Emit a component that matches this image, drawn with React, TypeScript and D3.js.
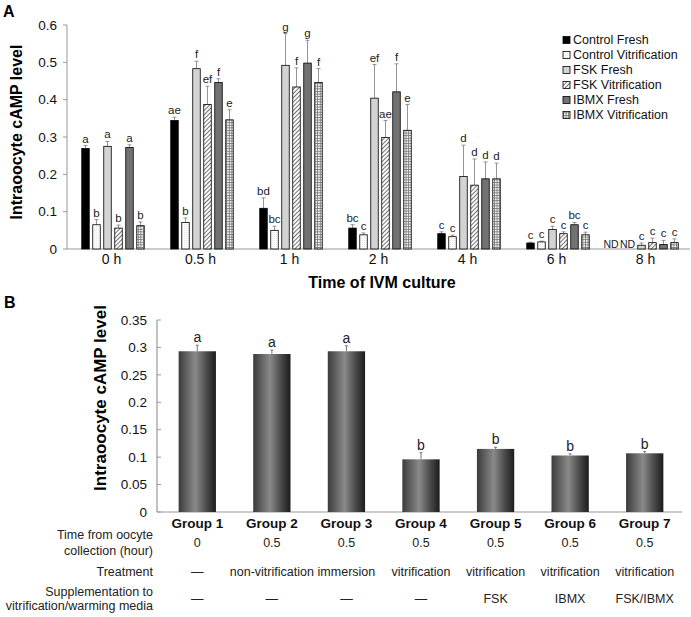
import React from "react";
import * as d3 from "d3";

// ---------- Panel A data ----------
const timeCats = ["0 h", "0.5 h", "1 h", "2 h", "4 h", "6 h", "8 h"];
const seriesNames = [
  "Control Fresh",
  "Control Vitrification",
  "FSK Fresh",
  "FSK Vitrification",
  "IBMX Fresh",
  "IBMX Vitrification",
];
const controlFresh = [0.269, 0.344, 0.109, 0.056, 0.041, 0.016, null];
const controlFreshErr = [0.008, 0.009, 0.028, 0.009, 0.005, 0.002, null];
const controlFreshLetters = ["a", "ae", "bd", "bc", "c", "c", "ND"];
const controlVit = [0.065, 0.071, 0.05, 0.038, 0.033, 0.019, null];
const controlVitErr = [0.014, 0.012, 0.011, 0.005, 0.004, 0.002, null];
const controlVitLetters = ["b", "b", "bc", "c", "c", "c", "ND"];
const fskFresh = [0.275, 0.483, 0.492, 0.404, 0.194, 0.052, 0.01];
const fskFreshErr = [0.013, 0.02, 0.085, 0.09, 0.084, 0.009, 0.006];
const fskFreshLetters = ["a", "f", "g", "ef", "d", "c", "c"];
const fskVit = [0.056, 0.387, 0.434, 0.299, 0.171, 0.041, 0.017];
const fskVitErr = [0.008, 0.049, 0.051, 0.045, 0.07, 0.005, 0.012];
const fskVitLetters = ["b", "ef", "f", "ae", "d", "c", "c"];
const ibmxFresh = [0.272, 0.446, 0.498, 0.421, 0.188, 0.065, 0.012];
const ibmxFreshErr = [0.007, 0.01, 0.061, 0.075, 0.045, 0.006, 0.011];
const ibmxFreshLetters = ["a", "f", "g", "f", "d", "bc", "c"];
const ibmxVit = [0.0625, 0.346, 0.446, 0.318, 0.188, 0.038, 0.017];
const ibmxVitErr = [0.01, 0.027, 0.037, 0.069, 0.042, 0.007, 0.01];
const ibmxVitLetters = ["b", "e", "f", "e", "d", "c", "c"];
const yTicksA = [0, 0.1, 0.2, 0.3, 0.4, 0.5, 0.6];

// ---------- Panel B data ----------
const groups = ["Group 1", "Group 2", "Group 3", "Group 4", "Group 5", "Group 6", "Group 7"];
const groupValues = [0.293, 0.288, 0.293, 0.096, 0.115, 0.103, 0.107];
const groupErr = [0.011, 0.007, 0.01, 0.012, 0.003, 0.003, 0.003];
const groupLetters = ["a", "a", "a", "b", "b", "b", "b"];
const timeFromCollection = ["0", "0.5", "0.5", "0.5", "0.5", "0.5", "0.5"];
const treatment = ["—", "non-vitrification", "immersion", "vitrification", "vitrification", "vitrification", "vitrification"];
const supplementation = ["—", "—", "—", "—", "FSK", "IBMX", "FSK/IBMX"];
const yTicksB = [0, 0.05, 0.1, 0.15, 0.2, 0.25, 0.3, 0.35];

const FONT = "'Liberation Sans', Arial, sans-serif";

export default function App() {
  const seriesValues = [controlFresh, controlVit, fskFresh, fskVit, ibmxFresh, ibmxVit];
  const seriesErr = [controlFreshErr, controlVitErr, fskFreshErr, fskVitErr, ibmxFreshErr, ibmxVitErr];
  const seriesLetters = [
    controlFreshLetters,
    controlVitLetters,
    fskFreshLetters,
    fskVitLetters,
    ibmxFreshLetters,
    ibmxVitLetters,
  ];
  const fills = ["#000000", "url(#dotsPat)", "#d3d3d3", "url(#hatchPat)", "#727272", "url(#gridPat)"];

  // Panel A scales
  const xA = d3.scaleBand<string>().domain(timeCats).range([67, 690]).padding(0);
  const yA = d3.scaleLinear().domain([0, 0.6]).range([249, 25]);
  const barW = 7.5;
  const barStep = 11;

  // Panel B scales
  const xB = d3.scaleBand<string>().domain(groups).range([160, 682]).paddingInner(0.5).paddingOuter(0.25);
  const yB = d3.scaleLinear().domain([0, 0.35]).range([512, 320]);

  return (
    <svg
      width={691}
      height={617}
      style={{ position: "absolute", left: 0, top: 0, background: "#fff" }}
      fontFamily={FONT}
    >
      <defs>
        <pattern id="dotsPat" width="2" height="2" patternUnits="userSpaceOnUse">
          <rect width="2" height="2" fill="#ffffff" />
          <rect width="1" height="1" fill="#e4e4e4" />
        </pattern>
        <pattern id="hatchPat" width="3" height="3" patternUnits="userSpaceOnUse" patternTransform="rotate(45)">
          <rect width="3" height="3" fill="#ffffff" />
          <line x1="0" y1="0" x2="0" y2="3" stroke="#333" strokeWidth="1.4" />
        </pattern>
        <pattern id="gridPat" width="2.6" height="2.6" patternUnits="userSpaceOnUse">
          <rect width="2.6" height="2.6" fill="#ffffff" />
          <line x1="0" y1="0.5" x2="2.6" y2="0.5" stroke="#777" strokeWidth="0.9" />
          <line x1="0.5" y1="0" x2="0.5" y2="2.6" stroke="#777" strokeWidth="0.9" />
        </pattern>
        <linearGradient id="barGrad" x1="0" x2="1" y1="0" y2="0">
          <stop offset="0" stopColor="#3a3a3a" />
          <stop offset="0.15" stopColor="#565656" />
          <stop offset="0.45" stopColor="#8a8a8a" />
          <stop offset="0.75" stopColor="#4a4a4a" />
          <stop offset="1" stopColor="#1c1c1c" />
        </linearGradient>
      </defs>

      {/* ================= Panel A ================= */}
      <text x={3} y={17} fontSize={16} fontWeight="bold">A</text>
      {/* y axis */}
      <line x1={67} x2={67} y1={yA(0.6)} y2={yA(0)} stroke="#999" strokeWidth={1} />
      {yTicksA.map((t) => (
        <g key={"ya" + t}>
          <line x1={63} x2={67} y1={yA(t)} y2={yA(t)} stroke="#999" />
          <text x={57} y={yA(t)} dy="0.35em" fontSize={13.5} textAnchor="end" fill="#111">
            {t === 0 ? "0" : t.toFixed(1)}
          </text>
        </g>
      ))}
      {/* x axis */}
      <line x1={67} x2={690} y1={yA(0)} y2={yA(0)} stroke="#999" strokeWidth={1} />
      {timeCats.map((c) => (
        <text
          key={"xa" + c}
          x={(xA(c) as number) + xA.bandwidth() / 2}
          y={264}
          fontSize={14}
          textAnchor="middle"
          fill="#111"
        >
          {c}
        </text>
      ))}
      <text
        transform={`translate(22, 132) rotate(-90)`}
        fontSize={16}
        fontWeight="bold"
        textAnchor="middle"
      >
        Intraoocyte cAMP level
      </text>
      <text x={382} y={288} fontSize={16} fontWeight="bold" textAnchor="middle">
        Time of IVM culture
      </text>

      {/* bars */}
      {timeCats.map((c, gi) => {
        const cx = (xA(c) as number) + xA.bandwidth() / 2 + 1.5;
        return (
          <g key={"grp" + c}>
            {seriesNames.map((s, si) => {
              const v = seriesValues[si][gi];
              const e = seriesErr[si][gi];
              const bx = cx + (si - 2.5) * barStep;
              const letter = seriesLetters[si][gi];
              if (v == null) {
                return (
                  <text
                    key={s}
                    x={cx - 2.5 * barStep - 8.5 + si * 16.5}
                    y={yA(0) - 1}
                    fontSize={10.5}
                    textAnchor="middle"
                    fill="#222"
                  >
                    {letter}
                  </text>
                );
              }
              const top = yA(v);
              const etop = yA(v + (e || 0));
              return (
                <g key={s}>
                  <line x1={bx} x2={bx} y1={top} y2={etop} stroke="#888" strokeWidth={0.9} />
                  <line x1={bx - 2} x2={bx + 2} y1={etop} y2={etop} stroke="#888" strokeWidth={0.9} />
                  <rect
                    x={bx - barW / 2}
                    y={top}
                    width={barW}
                    height={yA(0) - top}
                    fill={fills[si]}
                    stroke="#000"
                    strokeWidth={0.8}
                  />
                  <text x={bx} y={etop - 3} fontSize={11.5} textAnchor="middle" fill="#222">
                    {letter}
                  </text>
                </g>
              );
            })}
          </g>
        );
      })}

      {/* legend */}
      {seriesNames.map((s, i) => (
        <g key={"leg" + s} transform={`translate(563, ${40 + i * 15})`}>
          <rect x={0} y={-3.5} width={7} height={7} fill={fills[i]} stroke="#000" strokeWidth={0.8} />
          <text x={10} y={0} dy="0.35em" fontSize={12.5} fill="#111">
            {s}
          </text>
        </g>
      ))}

      {/* ================= Panel B ================= */}
      <text x={4} y={308} fontSize={16} fontWeight="bold">B</text>
      <line x1={157} x2={157} y1={yB(0.35)} y2={yB(0)} stroke="#999" strokeWidth={1.2} />
      {yTicksB.map((t) => (
        <g key={"yb" + t}>
          <line x1={157} x2={161} y1={yB(t)} y2={yB(t)} stroke="#999" />
          <text x={147} y={yB(t)} dy="0.35em" fontSize={13.5} textAnchor="end" fill="#111">
            {t === 0 ? "0" : String(+t.toFixed(2))}
          </text>
        </g>
      ))}
      <line x1={157} x2={682} y1={yB(0)} y2={yB(0)} stroke="#999" strokeWidth={1.2} />
      <text
        transform={`translate(106, ${398}) rotate(-90)`}
        fontSize={17}
        fontWeight="bold"
        textAnchor="middle"
      >
        Intraoocyte cAMP level
      </text>

      {groups.map((g, i) => {
        const x0 = xB(g) as number;
        const w = xB.bandwidth();
        const cx = x0 + w / 2;
        const top = yB(groupValues[i]);
        const etop = yB(groupValues[i] + groupErr[i]);
        return (
          <g key={g}>
            <line x1={cx} x2={cx} y1={top} y2={etop} stroke="#777" strokeWidth={1} />
            <line x1={cx - 1.5} x2={cx + 1.5} y1={etop} y2={etop} stroke="#777" strokeWidth={1} />
            <rect x={x0} y={top} width={w} height={yB(0) - top} fill="url(#barGrad)" />
            <text x={cx} y={etop - 3} fontSize={14} textAnchor="middle" fill="#222">
              {groupLetters[i]}
            </text>
            <text x={cx} y={528} fontSize={13.5} fontWeight="bold" textAnchor="middle" fill="#111">
              {g}
            </text>
            <text x={cx} y={547} fontSize={12.5} textAnchor="middle" fill="#222">
              {timeFromCollection[i]}
            </text>
            <text x={cx} y={576} fontSize={12.5} textAnchor="middle" fill="#222">
              {treatment[i]}
            </text>
            <text x={cx} y={603} fontSize={12.5} textAnchor="middle" fill="#222">
              {supplementation[i]}
            </text>
          </g>
        );
      })}

      {/* row labels */}
      <g fontSize={12.5} textAnchor="end" fill="#222">
        <text x={153} y={539}>Time from oocyte</text>
        <text x={153} y={555}>collection (hour)</text>
        <text x={153} y={576}>Treatment</text>
        <text x={153} y={596}>Supplementation to</text>
        <text x={153} y={610}>vitrification/warming media</text>
      </g>
    </svg>
  );
}
